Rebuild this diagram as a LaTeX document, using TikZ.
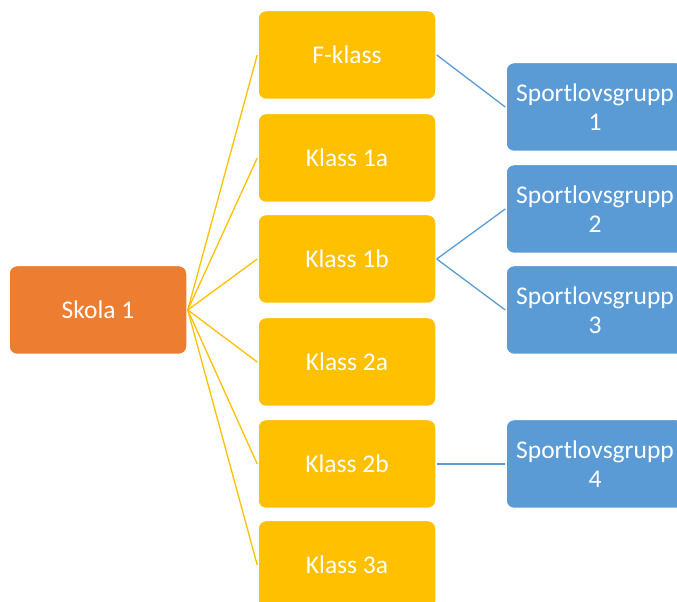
\documentclass[tikz,border=0pt]{standalone}
\usepackage{fontspec}
\setmainfont{Carlito}
\usepackage{xcolor}
\usetikzlibrary{positioning}
\definecolor{skolaorange}{HTML}{ED7D31}
\definecolor{klassgul}{HTML}{FFC000}
\definecolor{gruppbla}{HTML}{5B9BD5}

\begin{document}
\begin{tikzpicture}[x=1pt,y=1pt,
    box/.style={rounded corners=8pt,draw=white,line width=1.5pt,text=white,
        minimum width=178pt,minimum height=89pt,align=center,
        font=\fontsize{25.5}{29}\selectfont},
    skola/.style={box,fill=skolaorange},
    klass/.style={box,fill=klassgul},
    grupp/.style={box,fill=gruppbla},
    gulkant/.style={draw=klassgul,line width=1.3pt},
    blakant/.style={draw=gruppbla,line width=1.3pt}]
    \useasboundingbox (0,0) rectangle (677,602);
    % skola
    \node[skola] (s1) at (98,292) {Skola 1};
    % klasser
    \node[klass] (fk) at (347,547) {F-klass};
    \node[klass] (k1a) at (347,444) {Klass 1a};
    \node[klass] (k1b) at (347,343) {Klass 1b};
    \node[klass] (k2a) at (347,240) {Klass 2a};
    \node[klass] (k2b) at (347,138) {Klass 2b};
    \node[klass] (k3a) at (347,37) {Klass 3a};
    % sportlovsgrupper
    \node[grupp] (g1) at (595,495) {Sportlovsgrupp\\1};
    \node[grupp] (g2) at (595,393) {Sportlovsgrupp\\2};
    \node[grupp] (g3) at (595,292) {Sportlovsgrupp\\3};
    \node[grupp] (g4) at (595,138) {Sportlovsgrupp\\4};
    % linjer
    \foreach \k in {fk,k1a,k1b,k2a,k2b,k3a}
        \draw[gulkant] (s1.east)--(\k.west);
    \draw[blakant] (fk.east)--(g1.west);
    \draw[blakant] (k1b.east)--(g2.west);
    \draw[blakant] (k1b.east)--(g3.west);
    \draw[blakant] (k2b.east)--(g4.west);
\end{tikzpicture}
\end{document}
